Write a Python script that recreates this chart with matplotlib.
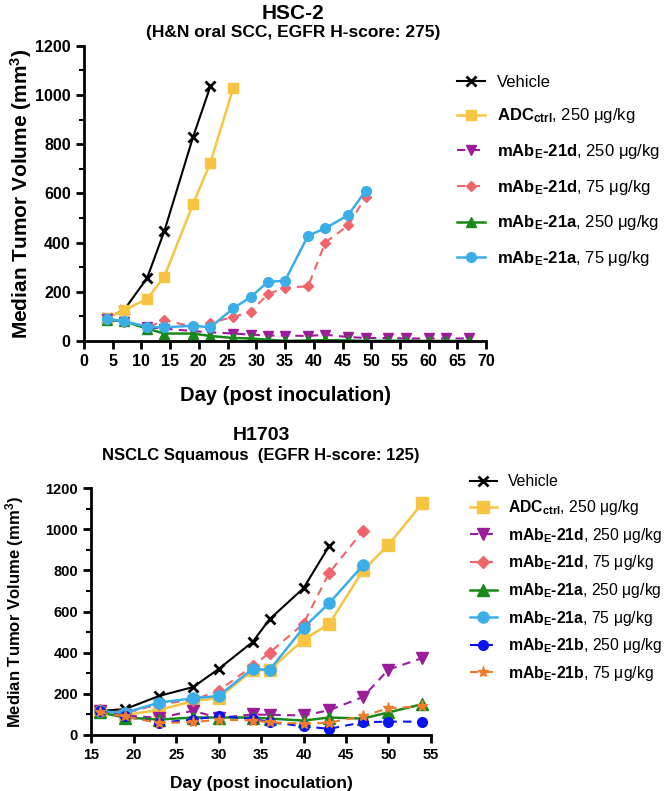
import matplotlib
matplotlib.use("Agg")
from matplotlib import pyplot as plt
from matplotlib.ticker import MultipleLocator

plt.rcParams['font.family'] = ['Liberation Sans', 'DejaVu Sans']
plt.rcParams['mathtext.fontset'] = 'custom'
plt.rcParams['mathtext.rm'] = 'Liberation Sans'
plt.rcParams['mathtext.bf'] = 'Liberation Sans:bold'
plt.rcParams['mathtext.it'] = 'Liberation Sans:italic'

# ---- HSC-2 data ----
hsc_days_veh = [4, 7, 11, 14, 19, 22]
hsc_veh = [94, 126, 256, 447, 830, 1035]
hsc_days_adc = [4, 7, 11, 14, 19, 22, 26]
hsc_adc = [95, 125, 171, 262, 557, 724, 1030]
hsc_days_long = [4, 7, 11, 14, 19, 22, 26, 29, 32, 35, 39, 42, 46, 49, 53, 56, 60, 63, 67]
hsc_21d_250 = [90, 75, 55, 50, 40, 35, 30, 26, 22, 22, 20, 25, 16, 12, 12, 10, 10, 10, 10]
hsc_21a_250 = [85, 80, 50, 30, 30, 20, 12, 10, 5, 0, 2, 3, 2, 0, 1, 1, 0, 0, 0]
hsc_days_mid = [4, 7, 11, 14, 19, 22, 26, 29, 32, 35, 39, 42, 46, 49]
hsc_21d_75 = [90, 78, 53, 85, 57, 73, 98, 118, 190, 217, 222, 400, 470, 585]
hsc_21a_75 = [90, 80, 58, 55, 62, 55, 133, 178, 240, 245, 428, 458, 512, 610]

# ---- H1703 data ----
h_days_veh = [16, 19, 23, 27, 30, 34, 36, 40, 43]
h_veh = [117, 126, 190, 233, 321, 452, 563, 714, 918]
h_days_all = [16, 19, 23, 27, 30, 34, 36, 40, 43, 47, 50, 54]
h_adc = [115, 97, 122, 165, 180, 314, 316, 464, 539, 800, 925, 1127]
h_days_mid = [16, 19, 23, 27, 30, 34, 36, 40, 43, 47]
h_21d_75 = [120, 105, 150, 170, 215, 335, 400, 542, 787, 993]
h_21a_75 = [115, 108, 158, 178, 190, 322, 316, 522, 640, 825]
h_21d_250 = [115, 95, 83, 118, 83, 100, 98, 95, 120, 185, 318, 374]
h_21a_250 = [110, 85, 75, 85, 85, 85, 80, 70, 85, 80, 110, 150]
h_21b_250 = [115, 90, 60, 75, 92, 78, 63, 42, 30, 62, 65, 65]
h_21b_75 = [110, 90, 58, 62, 75, 70, 62, 55, 60, 92, 130, 140]

C_BLACK = '#000000'
C_GOLD = '#F8C542'
C_PURPLE = '#9C1C9C'
C_RED = '#F0646C'
C_GREEN = '#178A1A'
C_LBLUE = '#3BAEEA'
C_BLUE = '#0A14F0'
C_ORANGE = '#F07B2C'

def lab(name, dose):
    return r'$\mathbf{mAb_E‐' + name + '}$' + ', %s μg/kg' % dose

lab_adc = r'$\mathbf{ADC_{ctrl}}$, 250 μg/kg'

fig = plt.figure(figsize=(6.66, 7.91), dpi=100)

# ---------- top chart ----------
ax1 = fig.add_axes([0.126, 0.569, 0.604, 0.373])
ms = 6
ax1.plot(hsc_days_veh, hsc_veh, color=C_BLACK, marker='x', ms=ms + 1, mew=2, lw=1.5, label='Vehicle')
ax1.plot(hsc_days_adc, hsc_adc, color=C_GOLD, marker='s', ms=ms + 1, lw=1.8, label=lab_adc)
ax1.plot(hsc_days_long, hsc_21d_250, color=C_PURPLE, marker='v', ms=ms + 1, lw=1.5, ls=(0, (4, 3)), label=lab('21d', 250))
ax1.plot(hsc_days_mid, hsc_21d_75, color=C_RED, marker='D', ms=ms - 1, lw=1.5, ls=(0, (4, 3)), label=lab('21d', 75))
ax1.plot(hsc_days_long, hsc_21a_250, color=C_GREEN, marker='^', ms=ms + 1, lw=1.8, label=lab('21a', 250))
ax1.plot(hsc_days_mid, hsc_21a_75, color=C_LBLUE, marker='o', ms=ms + 1, lw=1.8, label=lab('21a', 75))

ax1.set_xlim(0, 70)
ax1.set_ylim(0, 1200)
ax1.xaxis.set_major_locator(MultipleLocator(5))
ax1.yaxis.set_major_locator(MultipleLocator(200))
ax1.yaxis.set_minor_locator(MultipleLocator(100))
ax1.set_xlabel('Day (post inoculation)', fontsize=14.5, fontweight='bold', labelpad=12)
ax1.set_ylabel(r'Median Tumor Volume (mm$^\mathbf{3}$)', fontsize=15, fontweight='bold', labelpad=1)
ax1.text(0.52, 1.11, 'HSC-2', transform=ax1.transAxes, ha='center', va='center', fontsize=15, fontweight='bold')
ax1.text(0.52, 1.047, '(H&N oral SCC, EGFR H-score: 275)', transform=ax1.transAxes, ha='center',
         va='center', fontsize=12.5, fontweight='bold')
ax1.legend(loc='upper left', bbox_to_anchor=(0.91, 0.925), frameon=False, fontsize=12,
           handlelength=1.7, handletextpad=0.7, labelspacing=1.0, borderaxespad=0)

# ---------- bottom chart ----------
ax2 = fig.add_axes([0.137, 0.0708, 0.51, 0.312])
ms2 = 7
ax2.plot(h_days_veh, h_veh, color=C_BLACK, marker='x', ms=ms2, mew=2, lw=1.5, label='Vehicle')
ax2.plot(h_days_all, h_adc, color=C_GOLD, marker='s', ms=ms2 + 1, lw=1.8, label=lab_adc)
ax2.plot(h_days_all, h_21d_250, color=C_PURPLE, marker='v', ms=ms2 + 1, lw=1.5, ls=(0, (4, 3)), label=lab('21d', 250))
ax2.plot(h_days_mid, h_21d_75, color=C_RED, marker='D', ms=ms2 - 1, lw=1.5, ls=(0, (4, 3)), label=lab('21d', 75))
ax2.plot(h_days_all, h_21a_250, color=C_GREEN, marker='^', ms=ms2 + 1, lw=1.8, label=lab('21a', 250))
ax2.plot(h_days_mid, h_21a_75, color=C_LBLUE, marker='o', ms=ms2 + 1, lw=1.8, label=lab('21a', 75))
ax2.plot(h_days_all, h_21b_250, color=C_BLUE, marker='o', ms=ms2, lw=1.5, ls=(0, (4, 3)), label=lab('21b', 250))
ax2.plot(h_days_all, h_21b_75, color=C_ORANGE, marker='*', ms=ms2 + 1, lw=1.5, ls=(0, (4, 3)), label=lab('21b', 75))

ax2.set_xlim(15, 55)
ax2.set_ylim(0, 1200)
ax2.xaxis.set_major_locator(MultipleLocator(5))
ax2.yaxis.set_major_locator(MultipleLocator(200))
ax2.yaxis.set_minor_locator(MultipleLocator(100))
ax2.set_xlabel('Day (post inoculation)', fontsize=12.5, fontweight='bold', labelpad=10)
ax2.set_ylabel(r'Median Tumor Volume (mm$^\mathbf{3}$)', fontsize=12, fontweight='bold', labelpad=14)
ax2.text(0.5, 1.215, 'H1703', transform=ax2.transAxes, ha='center', va='center', fontsize=14, fontweight='bold')
ax2.text(0.5, 1.134, 'NSCLC Squamous  (EGFR H-score: 125)', transform=ax2.transAxes, ha='center',
         va='center', fontsize=12, fontweight='bold')
ax2.legend(loc='upper left', bbox_to_anchor=(1.097, 1.081), frameon=False, fontsize=11.3,
           handlelength=1.7, handletextpad=0.7, labelspacing=0.55, borderaxespad=0)

for ax, fs in ((ax1, 11.5), (ax2, 10.5)):
    for s in ('top', 'right'):
        ax.spines[s].set_visible(False)
    for s in ('left', 'bottom'):
        ax.spines[s].set_linewidth(2)
    ax.tick_params(which='major', width=2, length=6, labelsize=fs)
    ax.tick_params(which='minor', width=1.5, length=3.5)
    for t in ax.get_xticklabels() + ax.get_yticklabels():
        t.set_fontweight('bold')

fig.savefig('out.png', dpi=100)
